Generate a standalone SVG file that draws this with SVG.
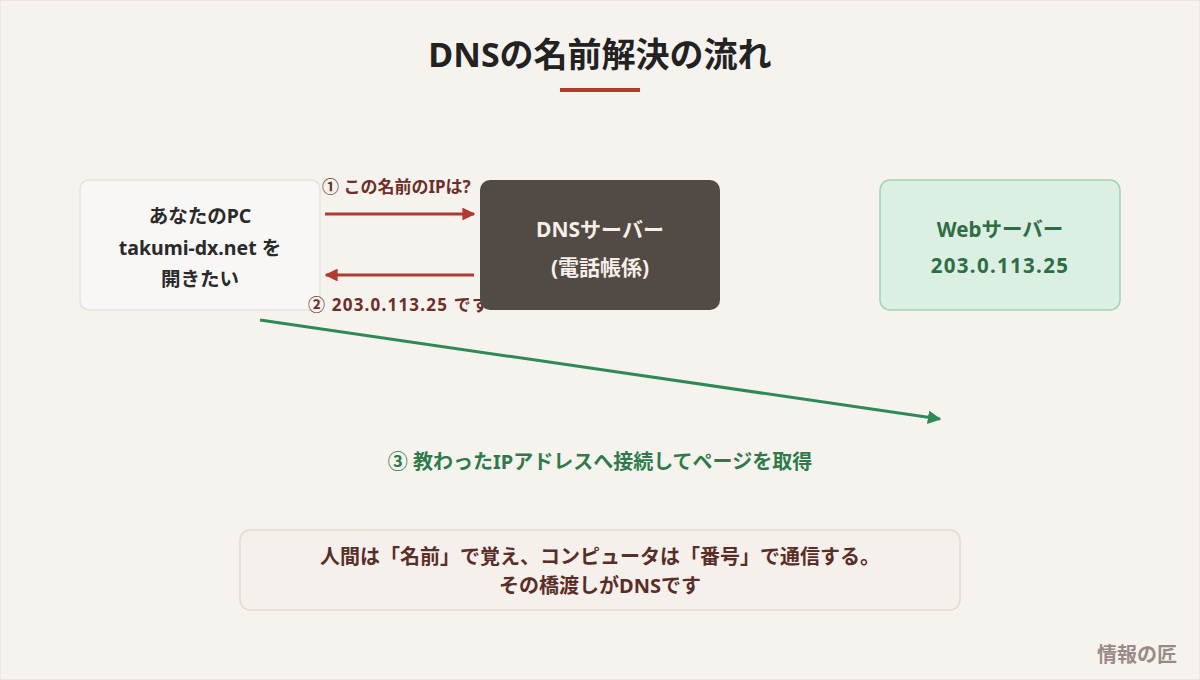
<svg xmlns="http://www.w3.org/2000/svg" width="1200" height="680" viewBox="0 0 1200 680">
  <defs>
    <style>
      text { font-family: "Noto Sans", "Noto Sans CJK JP", sans-serif; font-weight: bold; text-anchor: middle; }
      .title { font-size: 34px; fill: #222222; }
      .pc { font-size: 19.5px; fill: #2a2a2a; }
      .dns { font-size: 21px; fill: #f5efe8; }
      .web { font-size: 20.5px; fill: #2f6e45; }
      .lbl { font-size: 17px; fill: #6b2f28; text-anchor: start; }
      .glbl { font-size: 20px; fill: #2f7a4a; }
      .note { font-size: 20px; fill: #5a2e28; }
      .foot { font-size: 20px; fill: #9a8a85; text-anchor: end; }
      .red { stroke: #b03a2e; stroke-width: 3; fill: none; }
      .green { stroke: #2e8a55; stroke-width: 3; fill: none; }
    </style>
    <marker id="arrRed" viewBox="0 0 10 10" refX="9" refY="5" markerWidth="4.3" markerHeight="4.3" orient="auto">
      <path d="M0,0 L10,5 L0,10 z" fill="#b03a2e"/>
    </marker>
    <marker id="arrGreen" viewBox="0 0 10 10" refX="9" refY="5" markerWidth="4.5" markerHeight="4.5" orient="auto">
      <path d="M0,0 L10,5 L0,10 z" fill="#2e8a55"/>
    </marker>
  </defs>
  <rect x="0" y="0" width="1200" height="680" fill="#f6f3ef"/>
  <rect x="0.5" y="0.5" width="1199" height="679" fill="none" stroke="#ebe6e0"/>

  <g id="title">
    <text class="title" x="600" y="67">DNSの名前解決の流れ</text>
    <rect x="560" y="88" width="80" height="4" fill="#b03a2e"/>
  </g>

  <g id="pc">
    <rect x="80" y="180" width="240" height="130" rx="9" fill="#f8f7f5" stroke="#e6e2dc" stroke-width="1.5"/>
    <text class="pc" x="200" y="223">あなたのPC</text>
    <text class="pc" x="200" y="255">takumi-dx.net を</text>
    <text class="pc" x="200" y="286">開きたい</text>
  </g>

  <g id="connectors">
    <line class="red" x1="325" y1="214" x2="474" y2="214" marker-end="url(#arrRed)"/>
    <text class="lbl" x="322" y="193">① この名前のIPは?</text>
    <line class="red" x1="474" y1="275" x2="326" y2="275" marker-end="url(#arrRed)"/>
    <text class="lbl" x="308" y="311" letter-spacing="1.2">② 203.0.113.25 です</text>
    <line class="green" x1="260" y1="320" x2="940" y2="419" marker-end="url(#arrGreen)"/>
    <text class="glbl" x="600" y="469">③ 教わったIPアドレスへ接続してページを取得</text>
  </g>

  <g id="dns">
    <rect x="480" y="180" width="240" height="130" rx="10" fill="#524a45"/>
    <text class="dns" x="600" y="237">DNSサーバー</text>
    <text class="dns" x="600" y="275">(電話帳係)</text>
  </g>

  <g id="web">
    <rect x="880" y="180" width="240" height="130" rx="10" fill="#dcefe3" stroke="#a3d2b3" stroke-width="1.5"/>
    <text class="web" x="1000" y="237">Webサーバー</text>
    <text class="web" x="1000" y="273" letter-spacing="1.3">203.0.113.25</text>
  </g>

  <g id="note">
    <rect x="240" y="530" width="720" height="80" rx="10" fill="#f5f0eb" stroke="#e2dacd" stroke-width="1.5"/>
    <text class="note" x="600" y="564">人間は「名前」で覚え、コンピュータは「番号」で通信する。</text>
    <text class="note" x="600" y="593">その橋渡しがDNSです</text>
  </g>

  <g id="footer">
    <text class="foot" x="1177" y="662">情報の匠</text>
  </g>
</svg>
